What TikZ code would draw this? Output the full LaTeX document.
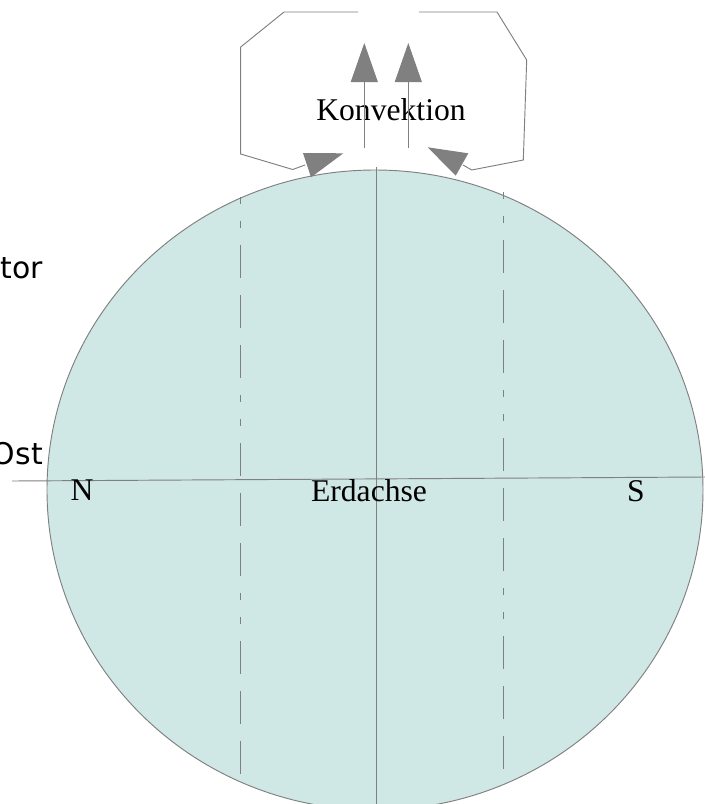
\documentclass[tikz,border=0pt]{standalone}
\usepackage{fontspec}
\setmainfont{Liberation Serif}
\newfontfamily\handfont{DejaVu Sans}
\usetikzlibrary{arrows.meta}

\definecolor{erdfill}{RGB}{207,231,229}
\definecolor{linegray}{RGB}{128,128,128}

\tikzset{
  outline/.style={draw=linegray, line width=0.8pt},
  lbl/.style={anchor=base, inner sep=0pt, font=\fontsize{27}{30}\selectfont},
  hand/.style={anchor=base east, inner sep=0pt, font=\handfont\fontsize{25.5}{28}\selectfont},
  breitengrad/.style={outline, dash pattern=on 6pt off 14.5pt on 6pt off 14.5pt on 28.2pt off 14.5pt on 28.2pt off 14.5pt on 28.2pt off 14.5pt},
  aufwind/.style={outline, -{Triangle[width=23pt,length=33.3pt]}},
  spitze/.style={fill=linegray}
}

\begin{document}
\begin{tikzpicture}[x=0.03cm,y=-0.03cm]

    \path[use as bounding box, fill=white] (0,0) rectangle (705,804);

    % Erde
    \draw[outline, fill=erdfill] (375,490) ellipse [x radius=328, y radius=320];

    \coordinate (pol1) at (376.5,167);
    \coordinate (pol2) at (376.5,830);
    \coordinate (ax1) at (12,481);
    \coordinate (ax2) at (705,477);
    \draw[outline] (pol1) -- (pol2);
    \draw[outline] (ax1) -- (ax2);

    \draw[breitengrad] (240,197) -- (240,780);
    \draw[breitengrad] (503,192) -- (503,774);

    \node[lbl] (nord) at (82,500) {N};
    \node[lbl] (erd) at (369,501) {Erdachse};
    \node[lbl] (sued) at (636,501) {S};
    \node[hand] (aeq) at (43,278) {tor};
    \node[hand] (ost) at (43,464) {Ost};

    % Konvektion
    \node[lbl] (konv) at (391,120) {Konvektion};
    \coordinate (k1) at (364.3,148);
    \coordinate (k1o) at (364.3,43);
    \coordinate (k2) at (408.3,148);
    \coordinate (k2o) at (408.3,43);
    \path
    (k1) edge[aufwind] (k1o)
    (k2) edge[aufwind] (k2o);

    \draw[outline] (358,12) -- (284,12) -- (240.7,47) -- (240.7,154) -- (292.7,169.5) -- (305,165);
    \draw[outline] (419,12) -- (497,12) -- (526.7,60) -- (523.3,160) -- (471.7,170) -- (463,165);
    \fill[spitze] (303,153) -- (343.3,153.3) -- (311,177.3) -- cycle;
    \fill[spitze] (427.7,147.3) -- (468.3,153.3) -- (455.7,175.7) -- cycle;
\end{tikzpicture}
\end{document}
